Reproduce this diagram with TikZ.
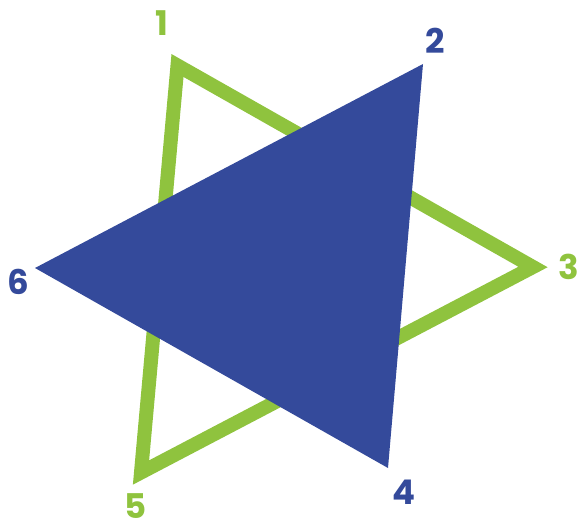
\documentclass[tikz,border=0pt]{standalone}
\usepackage{fontspec}
\setmainfont{Poppins}
\usepackage{xcolor}
\usetikzlibrary{positioning, calc}
\definecolor{stargreen}{RGB}{143,195,62}
\definecolor{starblue}{RGB}{52,74,155}

\begin{document}
\begin{tikzpicture}[
    x=1pt, y=-1pt,
    outline/.style = {draw=stargreen, line width=14pt, miter limit=10, line join=miter},
    solid/.style = {fill=starblue, draw=none},
    gnum/.style = {text=stargreen, font=\fontsize{34}{34}\selectfont\bfseries, inner sep=0pt},
    bnum/.style = {text=starblue, font=\fontsize{34}{34}\selectfont\bfseries, inner sep=0pt}
]
\useasboundingbox (0,0) rectangle (580,526);

% Corners
\coordinate (c1) at (177.5,65.5);
\coordinate (c3) at (533,267);
\coordinate (c5) at (141,472.5);
\coordinate (c2) at (423,64);
\coordinate (c6) at (35,268);
\coordinate (c4) at (388,468);

% Triangles
\draw[outline] (c1) -- (c3) -- (c5) -- cycle;
\fill[solid] (c2) -- (c6) -- (c4) -- cycle;

% Numbers
\node[gnum] (n1) at (162,23) {1};
\node[bnum] (n2) at (435,41) {2};
\node[gnum] (n3) at (569,267) {3};
\node[bnum] (n4) at (404,492) {4};
\node[gnum] (n5) at (136,506) {5};
\node[bnum] (n6) at (18,282) {6};

\end{tikzpicture}
\end{document}
